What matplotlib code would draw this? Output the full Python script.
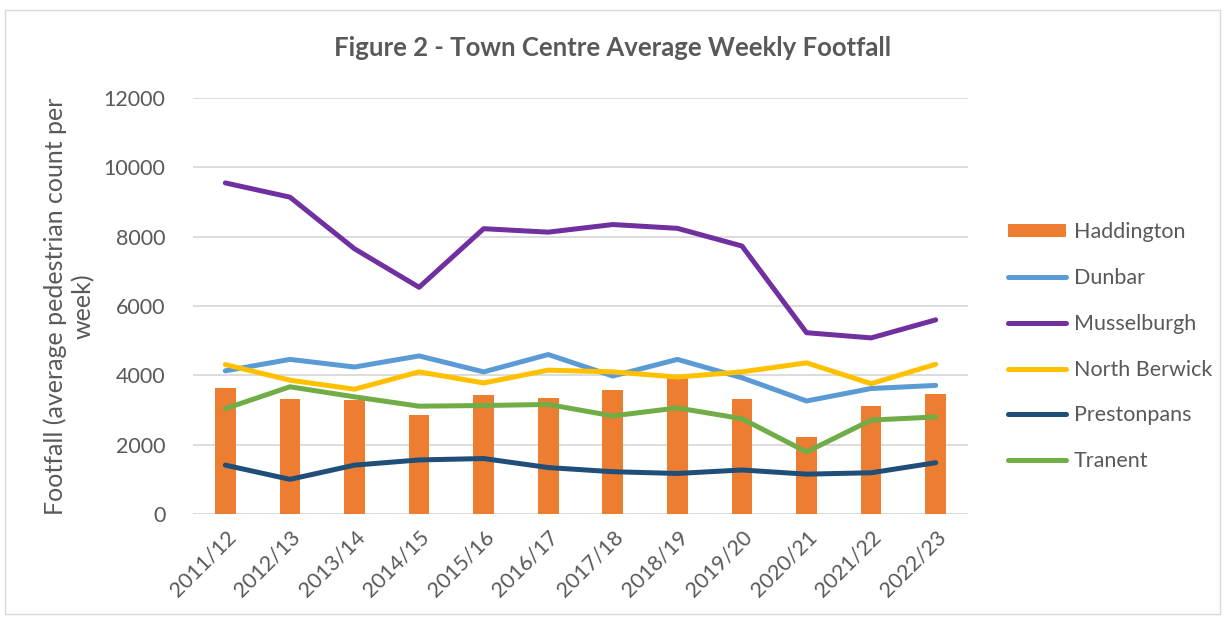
import matplotlib.pyplot as plt
import numpy as np

plt.rcParams['font.family'] = ['Lato', 'DejaVu Sans']

# valores
years = ['2011/12', '2012/13', '2013/14', '2014/15', '2015/16', '2016/17',
         '2017/18', '2018/19', '2019/20', '2020/21', '2021/22', '2022/23']
haddington = [3640, 3330, 3280, 2850, 3440, 3360, 3590, 3950, 3320, 2210, 3110, 3455]
dunbar = [4130, 4460, 4240, 4560, 4100, 4600, 3980, 4460, 3930, 3260, 3620, 3710]
musselburgh = [9550, 9140, 7650, 6540, 8230, 8130, 8350, 8240, 7730, 5230, 5080, 5600]
north_berwick = [4310, 3860, 3600, 4100, 3780, 4150, 4100, 3950, 4100, 4360, 3760, 4320]
prestonpans = [1410, 1000, 1410, 1560, 1600, 1340, 1220, 1170, 1270, 1150, 1190, 1480]
tranent = [3040, 3670, 3380, 3110, 3130, 3160, 2830, 3060, 2750, 1790, 2710, 2800]

lineas = [
    ('Dunbar', dunbar, '#5B9BD5'),
    ('Musselburgh', musselburgh, '#7030A0'),
    ('North Berwick', north_berwick, '#FFC000'),
    ('Prestonpans', prestonpans, '#1F4E79'),
    ('Tranent', tranent, '#70AD47'),
]

gris = '#595959'
fig = plt.figure(figsize=(12.25, 6.19), dpi=100)
ax = fig.add_axes([0.1576, 0.1696, 0.6326, 0.6721])

x = np.arange(len(years))
handles = []
barras = ax.bar(x, haddington, width=0.32, color='#ED7D31', label='Haddington', zorder=2)
handles.append(barras)
for nombre, vals, col in lineas:
    l, = ax.plot(x, vals, color=col, lw=3.6, label=nombre, zorder=3,
                 solid_capstyle='round', solid_joinstyle='round')
    handles.append(l)

ax.set_xlim(-0.5, len(years) - 0.5)
ax.set_ylim(0, 12000)
ax.set_yticks(range(0, 12001, 2000))
ax.set_xticks(x)
ax.set_xticklabels(years, rotation=45, ha='right', rotation_mode='anchor')
ax.tick_params(axis='both', length=0, colors=gris, labelsize=15.5)
ax.tick_params(axis='y', pad=20)
ax.tick_params(axis='x', pad=9)
ax.grid(axis='y', color='#D9D9D9', lw=1.3, zorder=0)
for s in ax.spines.values():
    s.set_visible(False)

ax.set_ylabel('Footfall (average pedestrian count per\nweek)', fontsize=18,
              color=gris, labelpad=6, linespacing=1.25)
fig.text(0.5, 0.923, 'Figure 2 - Town Centre Average Weekly Footfall',
         ha='center', va='center', fontsize=18.5, fontweight='bold', color=gris)

leg = fig.legend(handles=handles, loc='center left', bbox_to_anchor=(0.807, 0.44),
                 frameon=False, fontsize=15.5, labelspacing=1.2, handlelength=2.7,
                 handleheight=0.55, handletextpad=0.35, labelcolor=gris)

# marco del grafico
borde = plt.Rectangle((0.004, 0.008), 0.992, 0.976, transform=fig.transFigure,
                      fill=False, ec='#D9D9D9', lw=1)
fig.patches.append(borde)

fig.savefig('out.png', dpi=100)
